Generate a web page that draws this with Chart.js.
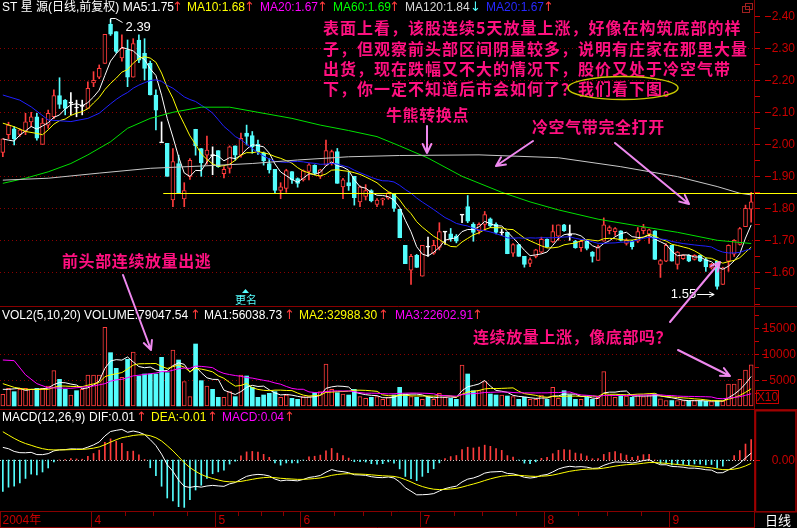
<!DOCTYPE html>
<html><head><meta charset="utf-8">
<script src="https://cdn.jsdelivr.net/npm/chart.js@4"></script>
<style>
html,body{margin:0;padding:0;background:#000;}
#wrap{position:relative;width:797px;height:528px;background:#000;overflow:hidden;}
canvas{position:absolute;left:0;}
</style></head><body>
<div id="wrap">
<canvas id="cPrice" width="797" height="307" style="top:0px"></canvas>
<canvas id="cVol" width="797" height="103" style="top:307px"></canvas>
<canvas id="cMacd" width="797" height="118" style="top:410px"></canvas>
<canvas id="cOver" width="797" height="528" style="top:0px;pointer-events:none"></canvas>
</div>
<script>
// ===== DATA =====
const open = [1.975,2.03,2.048,2.031,2.04,2.07,2.086,2.00,2.06,2.086,
2.152,2.138,2.13,2.115,2.12,2.112,2.192,2.21,2.253,2.375,
2.352,2.27,2.295,2.21,2.326,2.284,2.253,2.154,2.006,2.003,
1.826,1.94,1.829,1.90,2.047,1.987,1.966,1.966,1.98,1.908,
1.925,1.995,1.966,2.035,2.027,2.00,1.973,1.94,1.922,1.856,
1.862,1.915,1.893,1.889,1.915,1.934,1.90,1.935,1.94,1.977,
1.867,1.88,1.90,1.82,1.837,1.855,1.812,1.826,1.832,1.845,
1.797,1.684,1.607,1.653,1.588,1.68,1.66,1.678,1.727,1.72,
1.713,1.78,1.805,1.75,1.73,1.75,1.767,1.75,1.725,1.725,
1.66,1.687,1.65,1.628,1.65,1.663,1.703,1.695,1.713,1.748,
1.717,1.697,1.677,1.697,1.663,1.637,1.697,1.73,1.727,1.73,
1.69,1.697,1.697,1.73,1.72,1.73,1.625,1.635,1.684,1.625,
1.643,1.653,1.64,1.653,1.64,1.614,1.635,1.562,1.635,1.657,
1.687,1.743,1.797];
const close = [2.017,2.06,2.017,2.045,2.07,2.086,2.019,2.066,2.097,2.152,
2.125,2.112,2.13,2.115,2.12,2.175,2.20,2.237,2.344,2.344,
2.29,2.30,2.21,2.315,2.263,2.237,2.154,2.107,2.006,1.90,
1.946,1.846,1.855,1.95,1.995,1.942,1.982,1.966,1.93,1.922,
1.992,1.966,2.019,2.025,1.992,1.977,1.948,1.92,1.856,1.867,
1.918,1.889,1.878,1.918,1.936,1.91,1.92,1.98,1.977,1.878,
1.889,1.87,1.833,1.867,1.855,1.823,1.826,1.83,1.848,1.80,
1.708,1.627,1.65,1.615,1.684,1.68,1.684,1.727,1.727,1.705,
1.697,1.78,1.76,1.725,1.75,1.78,1.745,1.725,1.725,1.658,
1.687,1.65,1.625,1.64,1.67,1.703,1.68,1.727,1.748,1.73,
1.717,1.677,1.697,1.675,1.65,1.68,1.748,1.74,1.737,1.70,
1.70,1.68,1.727,1.74,1.733,1.64,1.637,1.684,1.635,1.663,
1.653,1.635,1.653,1.635,1.617,1.625,1.556,1.614,1.684,1.70,
1.737,1.80,1.82];
const high = [2.017,2.069,2.055,2.048,2.097,2.10,2.097,2.081,2.107,2.17,
2.208,2.14,2.162,2.138,2.138,2.195,2.227,2.248,2.344,2.39,
2.352,2.342,2.326,2.33,2.342,2.33,2.26,2.17,2.07,2.003,
1.987,1.966,1.88,1.955,2.047,1.987,2.026,1.992,1.98,1.93,
1.995,1.995,2.035,2.06,2.04,2.013,1.976,1.955,1.922,1.88,
1.922,1.915,1.895,1.92,1.94,1.936,1.922,2.013,1.982,1.987,
1.894,1.915,1.90,1.87,1.874,1.858,1.83,1.832,1.85,1.845,
1.797,1.684,1.656,1.656,1.684,1.71,1.70,1.755,1.727,1.737,
1.718,1.78,1.84,1.755,1.755,1.79,1.77,1.755,1.735,1.725,
1.69,1.687,1.65,1.645,1.672,1.71,1.705,1.748,1.748,1.75,
1.748,1.70,1.70,1.70,1.665,1.685,1.77,1.745,1.74,1.73,
1.705,1.70,1.74,1.75,1.735,1.73,1.64,1.69,1.684,1.665,
1.655,1.655,1.655,1.655,1.645,1.628,1.635,1.616,1.686,1.702,
1.74,1.81,1.85];
const low = [1.961,2.017,1.998,2.025,2.03,2.055,2.013,2.00,2.05,2.08,
2.112,2.092,2.092,2.086,2.092,2.112,2.18,2.205,2.253,2.34,
2.285,2.26,2.18,2.21,2.255,2.201,2.154,2.045,2.006,1.90,
1.805,1.846,1.805,1.89,1.966,1.90,1.938,1.905,1.928,1.895,
1.91,1.95,1.96,1.998,1.972,1.968,1.935,1.91,1.846,1.83,
1.85,1.878,1.866,1.885,1.889,1.905,1.893,1.935,1.935,1.878,
1.83,1.856,1.81,1.805,1.826,1.82,1.805,1.81,1.828,1.79,
1.708,1.627,1.562,1.615,1.588,1.65,1.656,1.67,1.687,1.697,
1.692,1.755,1.755,1.697,1.72,1.73,1.74,1.72,1.715,1.658,
1.65,1.65,1.616,1.618,1.645,1.66,1.678,1.693,1.70,1.728,
1.70,1.675,1.665,1.67,1.632,1.637,1.697,1.72,1.715,1.698,
1.685,1.672,1.693,1.72,1.69,1.64,1.584,1.633,1.635,1.61,
1.64,1.633,1.638,1.633,1.603,1.61,1.547,1.562,1.603,1.65,
1.685,1.743,1.757];
// volume in axis units (x10 shares)
const volume = [2244,3397,2756,3205,3397,3205,3397,3397,3846,6795,
5128,3205,2115,2949,3205,5962,5962,5962,15128,10256,
7244,5513,8974,10385,5769,6154,6154,6154,9359,6410,
10769,8846,4679,1795,11923,4872,3846,3205,1667,1667,
2756,1795,5962,5769,3590,1667,2115,2436,2756,1667,
2115,1474,1282,1795,1795,2564,2756,8077,3205,2564,
2308,2115,3205,1795,1474,1667,1795,1282,1667,2115,
3590,2310,1795,1667,1282,1795,1282,2436,1667,1474,
1282,7885,6154,2949,2949,4680,2310,2115,2115,1923,
1795,1282,1667,1282,1282,2115,1282,3590,1474,2949,
2115,1282,1282,1667,1282,1667,6603,2115,1667,2115,
1923,1667,2115,1795,2115,2310,1400,1050,1050,1050,
1050,950,1050,1000,900,850,1000,950,4230,4230,
5128,6923,7905];
const ma5Early = [[0,2.017],[1,2.013],[2,2.01],[3,2.029]];
const ma10Early = [[0,2.066],[2,2.055],[4,2.04],[6,2.034],[7,2.03],[8,2.045]];
const ma20Early = [[0,2.154],[3,2.138],[5,2.117],[8,2.076],[12,2.071],[15,2.081],[17,2.097]];
const ma60Pts = [[0,1.878],[4,1.894],[8,1.914],[12,1.94],[15,1.967],[19,2.008],[22,2.05],[26,2.081],[30,2.10],[35,2.116],[40,2.116],[45,2.10],[51,2.081],[56,2.06],[61,2.043],[66,2.024],[70,1.995],[75,1.957],[81,1.90],[88,1.85],[93,1.82],[98,1.795],[105,1.766],[112,1.745],[119,1.725],[126,1.70],[132,1.69]];
const ma120Pts = [[0,1.888],[8,1.894],[17,1.91],[26,1.925],[35,1.932],[44,1.94],[52,1.951],[61,1.961],[70,1.965],[84,1.967],[98,1.958],[109,1.93],[119,1.899],[126,1.868],[130,1.847],[132,1.842]];
const vma5Early = [[0,3205],[1,3205],[2,3300],[3,3397]];
const vma10Early = [[0,4295],[2,3590],[4,3205],[8,3205]];
const vma20Early = [[0,8846],[2,8718],[4,6000],[6,4300],[8,3500],[12,3400],[16,3846],[18,4295]];
const macdSeed = {ema12: 2.08, ema26: 2.045, dea: 0.07};
const supportLevel = 1.847, supportFrom = 29;
// tick labels
const priceLabels = [2.4,2.3,2.2,2.1,2.0,1.9,1.8,1.7,1.6];
const priceGrid = [2.3,2.2,2.1,2.0,1.9,1.8,1.7,1.6];
const volLabels = [15000,10000,5000];
const volGrid = [10000,5000];
const monthLabels = ['2004年','4','5','6','7','8','9'];
const monthStart = [0,16,38,53,74,96,118];
const weekStart = [22,27,33,42,46,50,59,64,69,80,85,91,102,107,113];

// ===== styling =====
const UP = '#ff3c3c', DOWN = '#54fcfc', DOJI = '#ffffff';
const SEP = '#880000', GRID = '#8c0000', AX = '#c80000';
const HFONT = '12px "Liberation Sans", "Noto Sans CJK SC", sans-serif';
const AFONT = '12px "Liberation Sans", sans-serif';
const ARFONT = '13px "DejaVu Sans", sans-serif';

const N = close.length;
const categories = close.map((_, i) => 'D' + (i + 1));

function withEarly(arr, n, early) {
  const out = new Array(arr.length).fill(null);
  early.forEach(([i, v]) => { out[i] = v; });
  for (let i = n - 1; i < arr.length; i++) { let s = 0; for (let k = i - n + 1; k <= i; k++) s += arr[k]; out[i] = s / n; }
  return out;
}
function sparse(pts) { const out = new Array(N).fill(null); pts.forEach(([i, v]) => { out[i] = v; }); return out; }

const ma5 = withEarly(close, 5, ma5Early), ma10 = withEarly(close, 10, ma10Early), ma20 = withEarly(close, 20, ma20Early);
const ma60 = sparse(ma60Pts), ma120 = sparse(ma120Pts);
const vma5 = withEarly(volume, 5, vma5Early), vma10 = withEarly(volume, 10, vma10Early), vma20 = withEarly(volume, 20, vma20Early);
const dif = [], dea = [], macdHist = [];
(function () {
  let e12 = macdSeed.ema12, e26 = macdSeed.ema26, d = macdSeed.dea;
  close.forEach(c => { e12 += (c - e12) * 2 / 13; e26 += (c - e26) * 2 / 27; const df = e12 - e26; d += (df - d) * 2 / 10; dif.push(df); dea.push(d); macdHist.push(2 * (df - d)); });
})();

const candleColor = close.map((c, i) => c > open[i] ? UP : (c < open[i] ? DOWN : DOJI));
const bodyFill = close.map((c, i) => c > open[i] ? '#000000' : (c < open[i] ? DOWN : DOJI));
const wickData = low.map((l, i) => [l, high[i]]);
const bodyData = open.map((o, i) => o === close[i] ? [o - 0.0016, o + 0.0016] : [Math.min(o, close[i]), Math.max(o, close[i])]);
const volUp = close.map((c, i) => c > open[i] || (c === open[i] && (i === 0 || c >= close[i - 1])));

// ===== helpers =====
function dotted(ctx, x1, x2, y, color, dash) {
  ctx.save(); ctx.strokeStyle = color; ctx.lineWidth = 1; ctx.setLineDash(dash || [1, 3]);
  const yy = Math.round(y) + 0.5; ctx.beginPath(); ctx.moveTo(x1, yy); ctx.lineTo(x2, yy); ctx.stroke(); ctx.restore();
}
function hline(ctx, x1, x2, y, color) { ctx.save(); ctx.strokeStyle = color; ctx.lineWidth = 1; ctx.beginPath(); ctx.moveTo(x1, y); ctx.lineTo(x2, y); ctx.stroke(); ctx.restore(); }
function vline(ctx, x, y1, y2, color) { ctx.save(); ctx.strokeStyle = color; ctx.lineWidth = 1; ctx.beginPath(); ctx.moveTo(x, y1); ctx.lineTo(x, y2); ctx.stroke(); ctx.restore(); }
function text(ctx, s, x, y, color, font, align, spacing) {
  ctx.save(); ctx.font = font; ctx.fillStyle = color; ctx.textAlign = align || 'left'; ctx.textBaseline = 'middle';
  if (spacing && 'letterSpacing' in ctx) ctx.letterSpacing = spacing;
  ctx.fillText(s, x, y); ctx.restore();
}
function header(ctx, items, y) {
  items.forEach(([s, x, c]) => text(ctx, s, x, y, c, (s === '↑' || s === '↓') ? ARFONT : HFONT));
}
function lineDs(data, color, order) {
  return {type: 'line', data, borderColor: color, borderWidth: 1, pointRadius: 0, tension: 0, spanGaps: true, fill: false, order: order || 1};
}
const common = {
  responsive: false, maintainAspectRatio: false, animation: false, devicePixelRatio: 1, events: [],
  plugins: {legend: {display: false}, tooltip: {enabled: false}}
};

// ===== price chart =====
const priceHeader = [['ST 星 源(日线,前复权) MA5:1.75', 2, '#ffffff'], ['↑', 172, UP], ['MA10:1.68', 187, '#ffff00'], ['↑', 244, UP],
  ['MA20:1.67', 260, '#ff00ff'], ['↑', 317, UP], ['MA60:1.69', 333, '#00ff00'], ['↑', 389, UP],
  ['MA120:1.84', 405, '#d8d8d8'], ['↓', 470, DOWN], ['MA20:1.67', 486, '#2828ff'], ['↑', 543, UP]];
const priceDecor = {
  id: 'priceDecor',
  beforeDatasetsDraw(chart) {
    const {ctx, chartArea: a, scales: {y}} = chart;
    priceGrid.forEach(v => dotted(ctx, a.left, a.right, y.getPixelForValue(v), GRID));
  },
  afterDatasetsDraw(chart) {
    const {ctx, scales: {x, y}} = chart;
    const yy = Math.round(y.getPixelForValue(supportLevel)) + 0.5;
    ctx.save(); ctx.strokeStyle = '#ffff00'; ctx.lineWidth = 1.2; ctx.beginPath();
    ctx.moveTo(x.getPixelForValue(supportFrom) - 4, yy); ctx.lineTo(chart.width, yy); ctx.stroke(); ctx.restore();
  },
  afterDraw(chart) {
    const {ctx, chartArea: a, scales: {x, y}} = chart;
    const R = a.right;
    vline(ctx, R + 0.5, 0, chart.height, SEP);
    hline(ctx, 0, chart.width, chart.height - 0.5, SEP);
    for (let v = 1.50; v <= 2.46; v += 0.05) {
      const py = Math.round(y.getPixelForValue(v)) + 0.5;
      if (py > 2 && py < chart.height - 2) hline(ctx, R + 1, R + 6, py, AX);
    }
    priceLabels.forEach(v => {
      const py = Math.round(y.getPixelForValue(v)) + 0.5;
      hline(ctx, R + 11, R + 17, py, AX);
      text(ctx, v.toFixed(2), 795, py, AX, AFONT, 'right');
    });
    // small window icon
    ctx.save(); ctx.strokeStyle = '#a02020'; ctx.lineWidth = 1; ctx.strokeRect(745.5, 3.5, 7, 6); ctx.strokeRect(742.5, 6.5, 7, 6); ctx.restore();
    header(ctx, priceHeader, 8);
    // max / min markers
    const hx = x.getPixelForValue(19), hy = y.getPixelForValue(high[19]);
    ctx.save(); ctx.strokeStyle = '#ffffff'; ctx.lineWidth = 1; ctx.beginPath();
    ctx.moveTo(hx, hy + 3); ctx.lineTo(hx, hy - 1); ctx.lineTo(hx + 5, hy - 1); ctx.lineTo(hx + 12, hy + 3); ctx.stroke(); ctx.restore();
    text(ctx, high[19].toFixed(2), hx + 15, hy + 8, '#ffffff', '13px "Liberation Sans", sans-serif');
    const lx = x.getPixelForValue(126), ly = y.getPixelForValue(low[126]) + 5;
    text(ctx, low[126].toFixed(2), lx - 21, ly, '#ffffff', '13px "Liberation Sans", sans-serif', 'right');
    ctx.save(); ctx.strokeStyle = '#ffffff'; ctx.lineWidth = 1; ctx.beginPath();
    ctx.moveTo(lx - 20, Math.round(ly) + 0.5); ctx.lineTo(lx - 3, Math.round(ly) + 0.5);
    ctx.moveTo(lx - 3, Math.round(ly) + 0.5); ctx.lineTo(lx - 8, Math.round(ly) - 2);
    ctx.moveTo(lx - 3, Math.round(ly) + 0.5); ctx.lineTo(lx - 8, Math.round(ly) + 3); ctx.stroke(); ctx.restore();
  }
};
new Chart(document.getElementById('cPrice'), {
  type: 'bar',
  data: {labels: categories, datasets: [
    {type: 'bar', data: wickData, backgroundColor: candleColor, barThickness: 1, grouped: false, order: 3},
    {type: 'bar', data: bodyData, backgroundColor: bodyFill, borderColor: candleColor, borderWidth: 1, borderSkipped: false, barThickness: 4, grouped: false, order: 2},
    lineDs(ma120, '#c8c8c8', 1), lineDs(ma60, '#00e000', 1), lineDs(ma20, '#2020ff', 1),
    lineDs(ma10, '#ffff00', 1), lineDs(ma5, '#ffffff', 0)
  ]},
  options: Object.assign({}, common, {
    layout: {padding: {left: 0, right: 43, top: 0, bottom: 0}},
    scales: {x: {display: false, offset: true}, y: {display: false, min: 1.4916, max: 2.4509}}
  }),
  plugins: [priceDecor]
});

// ===== volume chart =====
const volHeader = [['VOL2(5,10,20) VOLUME:79047.54', 2, '#ffffff'], ['↑', 190, UP], ['MA1:56038.73', 204, '#ffffff'], ['↑', 284, UP],
  ['MA2:32988.30', 299, '#ffff00'], ['↑', 378, UP], ['MA3:22602.91', 395, '#ff00ff'], ['↑', 472, UP]];
const volDecor = {
  id: 'volDecor',
  beforeDatasetsDraw(chart) {
    const {ctx, chartArea: a, scales: {y}} = chart;
    volGrid.forEach(v => dotted(ctx, a.left, a.right, y.getPixelForValue(v), GRID));
  },
  afterDraw(chart) {
    const {ctx, chartArea: a, scales: {y}} = chart;
    const R = a.right;
    vline(ctx, R + 0.5, 0, chart.height, SEP);
    hline(ctx, 0, chart.width, chart.height - 0.5, SEP);
    for (let v = 2500; v <= 17500; v += 2500) { const py = Math.round(y.getPixelForValue(v)) + 0.5; hline(ctx, R + 1, R + 5, py, AX); }
    volLabels.forEach(v => { const py = Math.round(y.getPixelForValue(v)) + 0.5; hline(ctx, R + 8, R + 13, py, AX); text(ctx, String(v), 796, py, AX, AFONT, 'right'); });
    ctx.save(); ctx.strokeStyle = AX; ctx.lineWidth = 1; ctx.strokeRect(756.5, 83.5, 22, 13); ctx.restore();
    text(ctx, 'X10', 767.5, 90.5, AX, AFONT, 'center');
    header(ctx, volHeader, 9);
  }
};
new Chart(document.getElementById('cVol'), {
  type: 'bar',
  data: {labels: categories, datasets: [
    {type: 'bar', data: volume, backgroundColor: volUp.map(u => u ? '#000000' : DOWN), borderColor: volUp.map(u => u ? UP : DOWN),
      borderWidth: volUp.map(u => u ? 1 : 0), borderSkipped: false, barThickness: 4, grouped: false, order: 2},
    lineDs(vma20, '#ff00ff', 1), lineDs(vma10, '#ffff00', 1), lineDs(vma5, '#ffffff', 0)
  ]},
  options: Object.assign({}, common, {
    layout: {padding: {left: 0, right: 43, top: 0, bottom: 0}},
    scales: {x: {display: false, offset: true}, y: {display: false, min: -769, max: 19038}}
  }),
  plugins: [volDecor]
});

// ===== MACD chart =====
const macdHeader = [['MACD(12,26,9)', 2, '#ffffff'], ['DIF:0.01', 89, '#ffffff'], ['↑', 136, UP], ['DEA:-0.01', 151, '#ffff00'], ['↑', 207, UP],
  ['MACD:0.04', 222, '#ff00ff'], ['↑', 284, UP]];
const macdDecor = {
  id: 'macdDecor',
  beforeDatasetsDraw(chart) {
    const {ctx, chartArea: a, scales: {y}} = chart;
    dotted(ctx, a.left, a.right, y.getPixelForValue(0), '#d0d0d0', [1, 2]);
  },
  afterDraw(chart) {
    const {ctx, chartArea: a, scales: {x, y}} = chart;
    const R = a.right, B = a.bottom;
    vline(ctx, R + 0.5, 0, chart.height, SEP);
    ctx.save(); ctx.strokeStyle = '#a00000'; ctx.lineWidth = 1.5; ctx.strokeRect(R + 1.5, 0.75, chart.width - R - 2.5, B); ctx.restore();
    const zy = Math.round(y.getPixelForValue(0)) + 0.5;
    hline(ctx, R + 2, R + 6, zy, AX);
    text(ctx, '0.00', 795, zy, AX, AFONT, 'right');
    header(ctx, macdHeader, 8);
    // date band
    hline(ctx, 0, chart.width, B + 0.5, SEP);
    hline(ctx, 0, R + 1, chart.height - 0.5, SEP);
    vline(ctx, 0.5, B, chart.height, SEP);
    const step = x.getPixelForValue(1) - x.getPixelForValue(0);
    monthStart.forEach((idx, k) => {
      const px = idx === 0 ? 0.5 : Math.round(x.getPixelForValue(idx) - step / 2) + 0.5;
      if (idx > 0) vline(ctx, px, B, chart.height, SEP);
      text(ctx, monthLabels[k], px + (idx === 0 ? 2 : 3), B + 9.5, AX, HFONT);
    });
    weekStart.forEach(idx => { const px = Math.round(x.getPixelForValue(idx) - step / 2) + 0.5; vline(ctx, px, B, B + 5, SEP); });
    text(ctx, '日线', 765, B + 9, '#ffffff', '13px "Noto Sans CJK SC", sans-serif');
  }
};
new Chart(document.getElementById('cMacd'), {
  type: 'bar',
  data: {labels: categories, datasets: [
    {type: 'bar', data: macdHist, backgroundColor: macdHist.map(v => v >= 0 ? UP : DOWN), barThickness: 1, grouped: false, order: 2},
    lineDs(dea, '#ffff00', 1), lineDs(dif, '#ffffff', 0)
  ]},
  options: Object.assign({}, common, {
    layout: {padding: {left: 0, right: 43, top: 0, bottom: 17}},
    scales: {x: {display: false, offset: true}, y: {display: false, min: -0.1109, max: 0.1087}}
  }),
  plugins: [macdDecor]
});

// ===== annotations (page coordinates) =====
const noteLines = ['表面上看，该股连续5天放量上涨，好像在构筑底部的样', '子，但观察前头部区间阴量较多，说明有庄家在那里大量',
  '出货，现在跌幅又不大的情况下，股价又处于冷空气带', '下，你一定不知道后市会如何了？我们看下图。'];
const noteY = [28, 49, 69, 89];
const labelNotes = [['牛熊转换点', 386, 115], ['冷空气带完全打开', 532, 127], ['前头部连续放量出逃', 62, 261], ['连续放量上涨，像底部吗？', 473, 337]];
const arrows = [[427, 126, 427, 153], [533, 141, 496, 166], [615, 143, 689, 204], [123, 275, 151, 350], [670, 322, 720, 262], [678, 350, 730, 376]];
(function () {
  const ctx = document.getElementById('cOver').getContext('2d');
  const PINK = '#ff1080', VIOLET = '#ee88ee';
  const CJK = 'bold 16px "Noto Sans CJK SC", sans-serif';
  noteLines.forEach((s, i) => text(ctx, s, 323, noteY[i], PINK, CJK, 'left', '1px'));
  labelNotes.forEach(([s, x, y]) => text(ctx, s, x, y, PINK, CJK, 'left', '0.6px'));
  ctx.save(); ctx.strokeStyle = '#c8c800'; ctx.lineWidth = 1.5; ctx.beginPath(); ctx.ellipse(623, 88, 55, 11.5, 0, 0, Math.PI * 2); ctx.stroke(); ctx.restore();
  ctx.save(); ctx.strokeStyle = VIOLET; ctx.lineWidth = 2; ctx.lineCap = 'round';
  arrows.forEach(([x1, y1, x2, y2]) => {
    const ang = Math.atan2(y2 - y1, x2 - x1), L = 10, s = 0.45;
    ctx.beginPath(); ctx.moveTo(x1, y1); ctx.lineTo(x2, y2);
    ctx.moveTo(x2, y2); ctx.lineTo(x2 - L * Math.cos(ang - s), y2 - L * Math.sin(ang - s));
    ctx.moveTo(x2, y2); ctx.lineTo(x2 - L * Math.cos(ang + s), y2 - L * Math.sin(ang + s)); ctx.stroke();
  });
  ctx.restore();
  // 更名 marker
  ctx.save(); ctx.fillStyle = DOWN; ctx.beginPath(); ctx.moveTo(242, 293); ctx.lineTo(249, 293); ctx.lineTo(245.5, 289); ctx.closePath(); ctx.fill(); ctx.restore();
  text(ctx, '更名', 235, 300, DOWN, '11px "Noto Sans CJK SC", sans-serif');
})();
</script>
</body></html>
